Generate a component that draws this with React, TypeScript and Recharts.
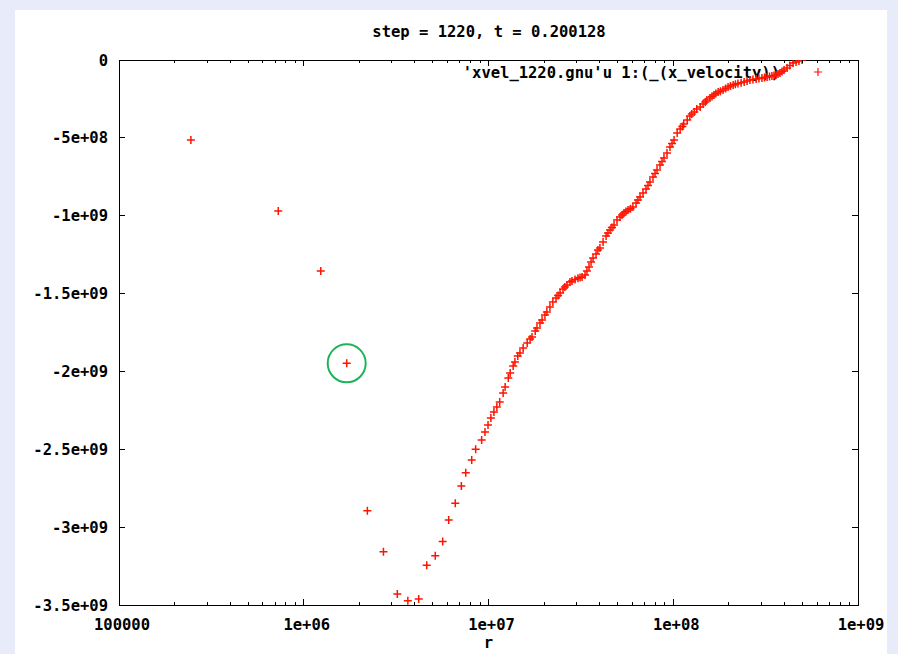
import React from 'react';
import { ScatterChart, Scatter, XAxis, YAxis, ReferenceArea, ReferenceDot } from 'recharts';

// r (x axis, log) and x_velocity values
const RADIUS = [
  2.45e5, 7.28e5, 1.236e6, 1.708e6, 2.21e6, 2.70e6, 3.21e6, 3.66e6, 4.19e6, 4.63e6,
  5.15e6, 5.65e6, 6.09e6, 6.61e6, 7.13e6, 7.53e6, 8.11e6, 8.52e6, 9.18e6,
  9.57e6, 9.94e6, 1.03e7, 1.07e7, 1.11e7, 1.15e7, 1.20e7, 1.23e7, 1.28e7, 1.31e7,
  1.36e7, 1.39e7, 1.44e7, 1.48e7, 1.54e7, 1.62e7, 1.68e7, 1.72e7, 1.79e7, 1.83e7,
  1.90e7, 1.95e7, 2.02e7, 2.07e7, 2.15e7, 2.23e7, 2.32e7, 2.38e7, 2.44e7, 2.53e7,
  2.59e7, 2.66e7, 2.76e7, 2.83e7, 2.94e7, 3.05e7, 3.13e7, 3.21e7, 3.33e7, 3.41e7,
  3.50e7, 3.59e7, 3.68e7, 3.82e7, 3.91e7, 4.01e7, 4.17e7, 4.33e7, 4.43e7, 4.55e7,
  4.66e7, 4.78e7, 4.96e7, 5.15e7, 5.28e7, 5.41e7, 5.55e7, 5.69e7, 5.87e7, 6.05e7,
  6.29e7, 6.44e7, 6.61e7, 6.86e7, 7.12e7, 7.30e7, 7.48e7, 7.77e7, 7.97e7, 8.17e7,
  8.48e7, 8.69e7, 8.91e7, 9.25e7, 9.60e7, 9.85e7, 1.01e8, 1.05e8, 1.09e8, 1.12e8,
  1.14e8, 1.19e8, 1.23e8, 1.26e8, 1.30e8, 1.34e8, 1.40e8, 1.45e8, 1.49e8, 1.52e8,
  1.58e8, 1.62e8, 1.66e8, 1.70e8, 1.75e8, 1.80e8, 1.86e8, 1.92e8, 1.98e8, 2.04e8,
  2.11e8, 2.17e8, 2.24e8, 2.33e8, 2.42e8, 2.51e8, 2.60e8, 2.70e8, 2.81e8, 2.91e8,
  3.02e8, 3.12e8, 3.22e8, 3.32e8, 3.42e8, 3.51e8, 3.60e8, 3.69e8, 3.78e8, 3.88e8,
  3.98e8, 4.13e8, 4.28e8, 4.45e8, 4.62e8, 4.79e8, 4.98e8,
];

const XVEL = [
  -5.14e8, -9.70e8, -1.355e9, -1.948e9, -2.894e9, -3.158e9, -3.429e9, -3.472e9, -3.461e9, -3.245e9,
  -3.183e9, -3.093e9, -2.954e9, -2.847e9, -2.736e9, -2.650e9, -2.569e9, -2.500e9, -2.440e9,
  -2.389e9, -2.344e9, -2.299e9, -2.261e9, -2.228e9, -2.196e9, -2.139e9, -2.100e9, -2.042e9, -2.010e9,
  -1.965e9, -1.939e9, -1.901e9, -1.882e9, -1.850e9, -1.817e9, -1.792e9, -1.779e9, -1.740e9, -1.721e9,
  -1.689e9, -1.670e9, -1.638e9, -1.618e9, -1.586e9, -1.554e9, -1.528e9, -1.512e9, -1.496e9, -1.471e9,
  -1.458e9, -1.445e9, -1.426e9, -1.419e9, -1.410e9, -1.402e9, -1.397e9, -1.394e9, -1.381e9, -1.355e9,
  -1.329e9, -1.297e9, -1.272e9, -1.246e9, -1.220e9, -1.207e9, -1.169e9, -1.130e9, -1.111e9, -1.092e9,
  -1.076e9, -1.060e9, -1.028e9, -1.008e9, -9.95e8, -9.83e8, -9.73e8, -9.63e8, -9.55e8, -9.44e8,
  -9.18e8, -8.99e8, -8.80e8, -8.54e8, -8.28e8, -8.06e8, -7.83e8, -7.51e8, -7.29e8, -7.06e8,
  -6.74e8, -6.52e8, -6.29e8, -5.97e8, -5.59e8, -5.36e8, -5.14e8, -4.69e8, -4.43e8, -4.27e8,
  -4.11e8, -3.85e8, -3.60e8, -3.47e8, -3.34e8, -3.15e8, -3.02e8, -2.83e8, -2.70e8, -2.57e8,
  -2.44e8, -2.34e8, -2.25e8, -2.15e8, -2.06e8, -2.00e8, -1.93e8, -1.83e8, -1.73e8, -1.67e8,
  -1.61e8, -1.55e8, -1.51e8, -1.46e8, -1.41e8, -1.35e8, -1.28e8, -1.25e8, -1.22e8, -1.19e8,
  -1.16e8, -1.12e8, -1.09e8, -1.06e8, -1.03e8, -1.00e8, -9.6e7, -9.0e7, -8.3e7, -7.4e7,
  -6.4e7, -5.1e7, -3.5e7, -1.9e7, -1.3e7, -6e6, 0,
];

const X_MAJOR = [1e5, 1e6, 1e7, 1e8, 1e9];
const X_LABELS = ['100000', '1e+06', '1e+07', '1e+08', '1e+09'];
const MINOR_MULTS = [2, 3, 4, 5, 6, 7, 8, 9];
const Y_TICKS = [0, -5e8, -1e9, -1.5e9, -2e9, -2.5e9, -3e9, -3.5e9];
const Y_LABELS = ['0', '-5e+08', '-1e+09', '-1.5e+09', '-2e+09', '-2.5e+09', '-3e+09', '-3.5e+09'];
const CIRCLED = { r: 1.708e6, v: -1.948e9 };

const TITLE = 'step = 1220, t = 0.200128';
const KEY_TEXT = "'xvel_1220.gnu'u 1:(_(x_velocity))";

const W = 898;
const H = 654;
const MARGIN = { top: 60, right: 40, bottom: 19, left: 59 };
const PLOT_TOP = MARGIN.top;
const PLOT_RIGHT = W - MARGIN.right;
const FONT = "'DejaVu Sans Mono', 'Liberation Mono', monospace";
const RED = '#ff1400';

const data = RADIUS.map((r, i) => ({ r, v: XVEL[i] }));
const xTicks = X_MAJOR.slice(0, -1)
  .flatMap((d) => [d, ...MINOR_MULTS.map((m) => m * d)])
  .concat(X_MAJOR[X_MAJOR.length - 1]);

const textStyle = { fontFamily: FONT, fontWeight: 700, fontSize: 15.5, fill: '#000' };

const XTick = (props: any) => {
  const { x, y, payload } = props;
  const idx = X_MAJOR.indexOf(payload.value);
  const len = idx >= 0 ? 6 : 3;
  return (
    <g>
      <line x1={x} x2={x} y1={y} y2={y - len} stroke="#000" shapeRendering="crispEdges" />
      <line x1={x} x2={x} y1={PLOT_TOP} y2={PLOT_TOP + len} stroke="#000" shapeRendering="crispEdges" />
      {idx >= 0 && (
        <text x={x + 3} y={y + 25} textAnchor="middle" style={textStyle}>
          {X_LABELS[idx]}
        </text>
      )}
    </g>
  );
};

const YTick = (props: any) => {
  const { x, y, payload } = props;
  const idx = Y_TICKS.indexOf(payload.value);
  return (
    <g>
      <line x1={x} x2={x + 6} y1={y} y2={y} stroke="#000" shapeRendering="crispEdges" />
      <line x1={PLOT_RIGHT - 6} x2={PLOT_RIGHT} y1={y} y2={y} stroke="#000" shapeRendering="crispEdges" />
      <text x={x - 11} y={y + 5.5} textAnchor="end" style={textStyle}>
        {Y_LABELS[idx]}
      </text>
    </g>
  );
};

const Plus = (props: any) => {
  const { cx, cy } = props;
  if (cx == null || cy == null) return null;
  return (
    <path
      d={`M${cx - 4},${cy}H${cx + 4}M${cx},${cy - 4}V${cy + 4}`}
      stroke={RED}
      strokeWidth={1.5}
      fill="none"
    />
  );
};

export default function App() {
  return (
    <div
      style={{
        position: 'absolute',
        left: 0,
        top: 0,
        width: W,
        height: H,
        background: '#e8ecfa',
        overflow: 'hidden',
      }}
    >
      <div style={{ position: 'absolute', left: 15, top: 10, width: 872, height: H - 10, background: '#fff' }} />
      {/* title and key sit under the data, as gnuplot draws them */}
      <svg width={W} height={H} style={{ position: 'absolute', left: 0, top: 0 }}>
        <text x={489} y={37} textAnchor="middle" style={textStyle}>
          {TITLE}
        </text>
        <text x={780} y={77.5} textAnchor="end" style={textStyle}>
          {KEY_TEXT}
        </text>
        <path d="M814,72H822M818,68V76" stroke={RED} strokeWidth={1.2} fill="none" />
      </svg>
      <div style={{ position: 'absolute', left: 0, top: 0 }}>
        <ScatterChart width={W} height={H} margin={MARGIN}>
          <XAxis
            dataKey="r"
            type="number"
            scale="log"
            domain={[1e5, 1e9]}
            ticks={xTicks}
            interval={0}
            allowDataOverflow
            height={30}
            axisLine={false}
            tickLine={false}
            tickSize={0}
            tickMargin={0}
            tick={<XTick />}
            label={{ value: 'r', position: 'bottom', offset: 2, style: textStyle }}
          />
          <YAxis
            dataKey="v"
            type="number"
            domain={[-3.5e9, 0]}
            ticks={Y_TICKS}
            interval={0}
            allowDataOverflow
            width={60}
            axisLine={false}
            tickLine={false}
            tickSize={0}
            tickMargin={0}
            tick={<YTick />}
          />
          <ReferenceArea
            x1={1e5}
            x2={1e9}
            y1={-3.5e9}
            y2={0}
            fill="none"
            fillOpacity={0}
            stroke="#000"
            strokeWidth={1}
            shapeRendering="crispEdges"
          />
          <Scatter data={data} dataKey="v" shape={<Plus />} isAnimationActive={false} />
          <ReferenceDot x={CIRCLED.r} y={CIRCLED.v} r={19} fill="none" stroke="#1db35a" strokeWidth={2} />
        </ScatterChart>
      </div>
    </div>
  );
}
